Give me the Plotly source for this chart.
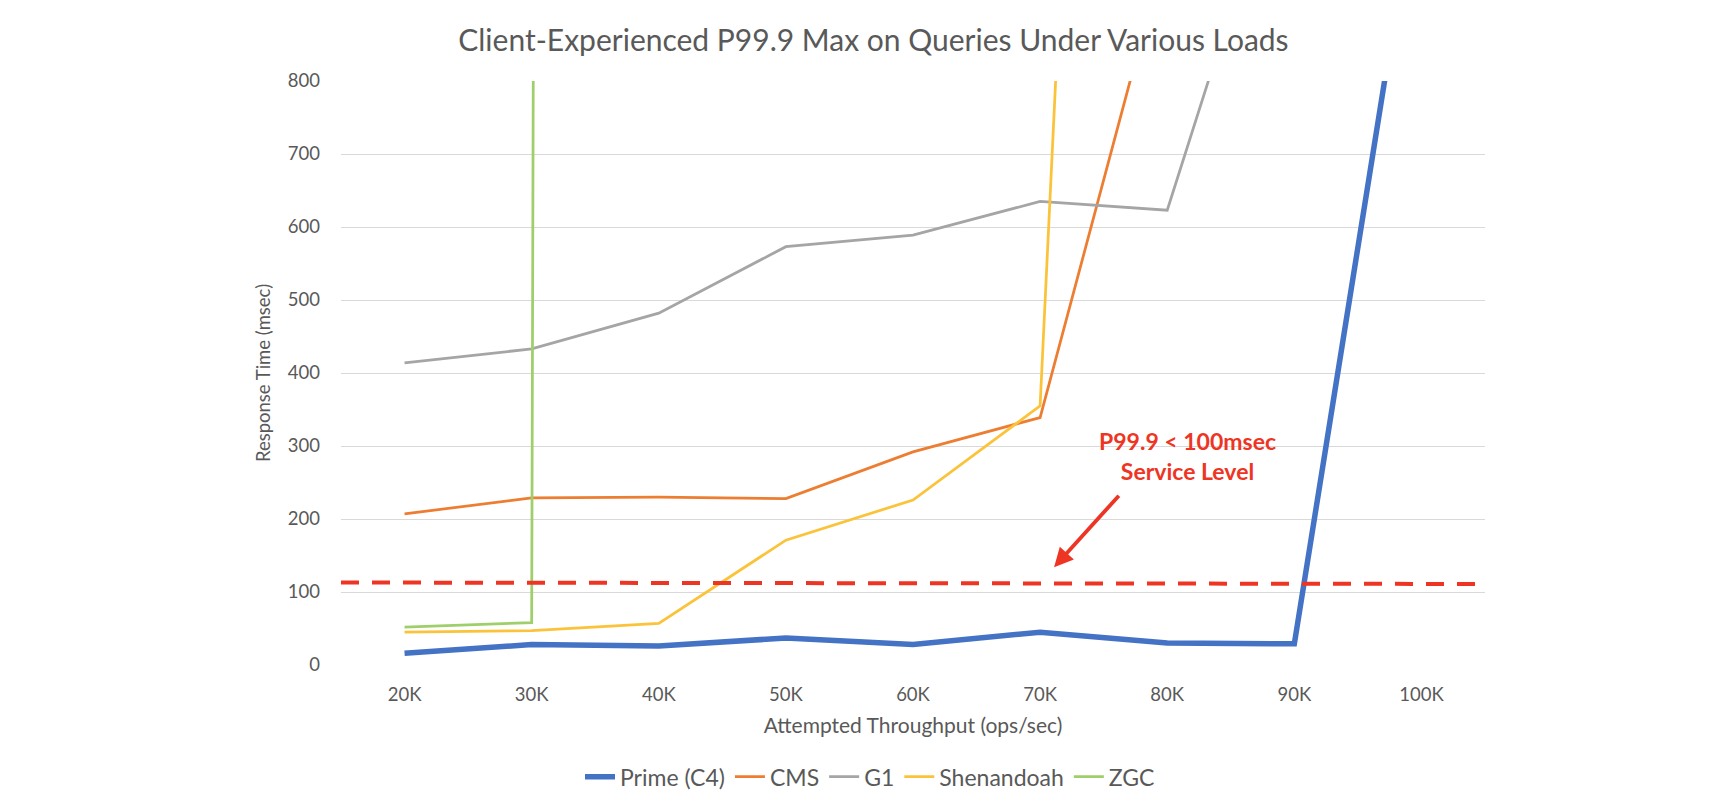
import plotly.graph_objects as go

categories = ["20K", "30K", "40K", "50K", "60K", "70K", "80K", "90K", "100K"]
x_idx = list(range(len(categories)))

prime_c4 = [16, 28, 26, 37, 28, 45, 30, 29, 1115]
cms = [207, 229, 230, 228, 292, 339, 990, None, None]
g1 = [414, 433, 482, 573, 589, 635, 623, 1170, None]
shenandoah = [45, 47, 57, 171, 226, 355, 4000, None, None]
zgc = [52, 58, 60000, None, None, None, None, None, None]

sla_level = [113, 111]
y_ticks = [0, 100, 200, 300, 400, 500, 600, 700, 800]

FONT = "Lato"
GREY = "#595959"

fig = go.Figure()
series = [
    ("Prime (C4)", prime_c4, "#4472C4", 5.5),
    ("CMS", cms, "#ED7D31", 2.75),
    ("G1", g1, "#A5A5A5", 2.75),
    ("Shenandoah", shenandoah, "#FBC33A", 2.75),
    ("ZGC", zgc, "#9ECF6A", 2.75),
]
for name, vals, color, w in series:
    fig.add_trace(go.Scatter(
        x=x_idx, y=vals, mode="lines", name=name,
        line=dict(color=color, width=w), connectgaps=False,
    ))

fig.add_shape(type="line", xref="paper", yref="y", x0=0, x1=1,
              y0=sla_level[0], y1=sla_level[1],
              line=dict(color="#EE3524", width=4, dash="18px,13px"))

fig.add_annotation(x=5.11, y=134, ax=5.63, ay=234, xref="x", yref="y",
                   axref="x", ayref="y", text="", showarrow=True,
                   arrowhead=2, arrowsize=1.0, arrowwidth=3.8, arrowcolor="#EE3524")
fig.add_annotation(x=6.16, y=286, xref="x", yref="y",
                   text="<b>P99.9 &lt; 100msec<br>Service Level</b>",
                   showarrow=False, align="center",
                   font=dict(family=FONT, size=23, color="#EE3524"))

fig.update_layout(
    width=1724, height=800,
    paper_bgcolor="white", plot_bgcolor="white",
    margin=dict(l=333, r=247, t=73, b=143),
    title=dict(text="Client-Experienced P99.9 Max on Queries Under Various Loads",
               x=0.502, xanchor="center", xref="container",
               y=0.96, yanchor="middle", yref="container",
               font=dict(family=FONT, size=30, color=GREY)),
    font=dict(family=FONT, color=GREY),
    showlegend=True,
    legend=dict(orientation="h", x=0.5, xref="container", xanchor="center",
                y=0.039, yref="container", yanchor="middle",
                font=dict(family=FONT, size=23, color=GREY),
                itemwidth=30, tracegroupgap=0),
    xaxis=dict(range=[-0.5, len(categories) - 0.5], tickmode="array",
               tickvals=x_idx, ticktext=categories, showgrid=False,
               zeroline=False, showline=False, ticks="",
               ticklabelstandoff=16,
               tickfont=dict(family=FONT, size=18.5, color=GREY),
               title=dict(text="Attempted Throughput (ops/sec)", standoff=14,
                          font=dict(family=FONT, size=21, color=GREY))),
    yaxis=dict(range=[0, 800], tickmode="array", tickvals=y_ticks,
               showgrid=True, gridcolor="#D9D9D9", gridwidth=1.3,
               zeroline=False, showline=False, ticks="",
               ticklabelstandoff=20,
               tickfont=dict(family=FONT, size=18.5, color=GREY),
               title=dict(text="Response Time (msec)", standoff=12,
                          font=dict(family=FONT, size=18.5, color=GREY))),
)

fig.write_html("out.html")
